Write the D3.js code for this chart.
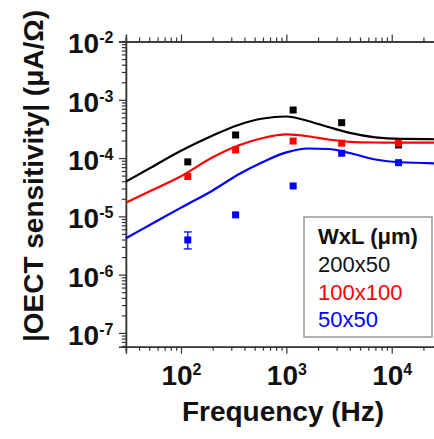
<!DOCTYPE html>
<html>
<head>
<meta charset="utf-8">
<script src="https://cdn.jsdelivr.net/npm/d3@7"></script>
<style>
  body { margin: 0; background: #fff; }
  svg { display: block; font-family: "Liberation Sans", Arial, sans-serif; }
</style>
</head>
<body>
<script>
// chart size
let width = 434, height = 439;

// plot area (right side runs past the window, like the original crop)
let margin = { top: 41.5, bottom: 92.3, left: 125.9, right: -8 };

// measured points (frequency in Hz, sensitivity in uA/Ohm)
const freqs = [116, 330, 1160, 3350, 11600];
const black200x50 = [8.6e-5, 2.49e-4, 6.68e-4, 4.05e-4, 1.68e-4];
const red100x100 = [4.83e-5, 1.38e-4, 1.96e-4, 1.80e-4, 1.80e-4];
const blue50x50 = [3.94e-6, 1.06e-5, 3.32e-5, 1.21e-4, 8.34e-5];
// error bar of the first blue point
const blueErrLow = [2.76e-6];
const blueErrHigh = [5.4e-6];

// fitted curves
const fitFreqs = [30, 50, 100, 200, 350, 600, 1000, 1600, 2500, 4000, 7000, 12000, 30000];
const fitBlack = [3.94e-5, 6.61e-5, 1.33e-4, 2.44e-4, 3.70e-4, 4.78e-4, 5.17e-4, 4.33e-4, 3.41e-4, 2.70e-4, 2.26e-4, 2.13e-4, 2.10e-4];
const fitRed = [1.72e-5, 2.67e-5, 4.87e-5, 1.03e-4, 1.64e-4, 2.21e-4, 2.54e-4, 2.37e-4, 2.08e-4, 1.90e-4, 1.85e-4, 1.84e-4, 1.84e-4];
const fitBlue = [4.21e-6, 7.03e-6, 1.41e-5, 2.78e-5, 5.24e-5, 8.57e-5, 1.25e-4, 1.46e-4, 1.43e-4, 1.22e-4, 9.46e-5, 8.47e-5, 8.08e-5];

// tick labels
const xMajor = [100, 1000, 10000];
const yMajor = [1e-7, 1e-6, 1e-5, 1e-4, 1e-3, 1e-2];

const legendTitle = "WxL (\u03bcm)";
const legendNames = ["200x50", "100x100", "50x50"];
const colors = ["#000000", "#ff0000", "#0000ff"];

let svg = d3.select('body')
  .append('svg')
  .attr('width', width)
  .attr('height', height);

const xScale = d3.scaleLog()
  .domain([30, 30000])
  .range([margin.left, width - margin.right]);

const yScale = d3.scaleLog()
  .domain([5.8e-8, 1e-2])
  .range([height - margin.bottom, margin.top]);

// minor ticks (2..9 of each decade)
const xMinor = xScale.ticks().filter(d => !xMajor.includes(d));
const yMinor = yScale.ticks().filter(d => !yMajor.some(m => Math.abs(m - d) / m < 1e-6));

const axisColor = "#333";

function styleAxis(g) {
  g.select(".domain").attr("stroke", axisColor).attr("stroke-width", 1.5);
  g.selectAll(".tick line").attr("stroke", axisColor).attr("stroke-width", 1.2);
}

function supLabels(g, dy) {
  g.selectAll(".tick text").each(function(d) {
    const t = d3.select(this);
    t.text("10");
    t.append("tspan")
      .attr("font-size", 16)
      .attr("dy", dy)
      .text(Math.round(Math.log10(d)));
  });
}

const yb = height - margin.bottom;

// bottom axis: minor, then major with labels
svg.append("g")
  .attr("transform", `translate(0,${yb})`)
  .call(d3.axisBottom(xScale).tickValues(xMinor).tickSize(4).tickFormat(""))
  .call(styleAxis);

svg.append("g")
  .attr("transform", `translate(0,${yb})`)
  .call(d3.axisBottom(xScale).tickValues(xMajor).tickSize(7).tickPadding(11.5))
  .call(styleAxis)
  .call(g => g.selectAll(".tick text")
    .attr("font-size", 28).attr("font-weight", "bold").attr("fill", "#111")
    .attr("font-family", "Liberation Sans, Arial, sans-serif"))
  .call(g => supLabels(g, -10));

// top axis
svg.append("g")
  .attr("transform", `translate(0,${margin.top})`)
  .call(d3.axisTop(xScale).tickValues(xMinor).tickSize(4).tickFormat(""))
  .call(styleAxis);

svg.append("g")
  .attr("transform", `translate(0,${margin.top})`)
  .call(d3.axisTop(xScale).tickValues(xMajor).tickSize(7).tickFormat(""))
  .call(styleAxis);

// left axis
svg.append("g")
  .attr("transform", `translate(${margin.left},0)`)
  .call(d3.axisLeft(yScale).tickValues(yMinor).tickSize(4).tickFormat(""))
  .call(styleAxis);

svg.append("g")
  .attr("transform", `translate(${margin.left},0)`)
  .call(d3.axisLeft(yScale).tickValues(yMajor).tickSize(7).tickPadding(5.5))
  .call(styleAxis)
  .call(g => g.selectAll(".tick text")
    .attr("font-size", 28).attr("font-weight", "bold").attr("fill", "#111")
    .attr("dy", "0.41em")
    .attr("font-family", "Liberation Sans, Arial, sans-serif"))
  .call(g => supLabels(g, -10));

// fitted curves
const line = d3.line()
  .x(d => xScale(d[0]))
  .y(d => yScale(d[1]))
  .curve(d3.curveMonotoneX);

const fits = [fitBlack, fitRed, fitBlue];
fits.forEach(function(vals, i) {
  svg.append("path")
    .datum(fitFreqs.map((f, j) => [f, vals[j]]))
    .attr("fill", "none")
    .attr("stroke", colors[i])
    .attr("stroke-width", 2.2)
    .attr("d", line);
});

// error bar on blue first point
const ex = xScale(freqs[0]);
svg.append("line")
  .attr("x1", ex).attr("x2", ex)
  .attr("y1", yScale(blueErrLow[0])).attr("y2", yScale(blueErrHigh[0]))
  .attr("stroke", colors[2]).attr("stroke-width", 1.3);
[blueErrLow[0], blueErrHigh[0]].forEach(v => {
  svg.append("line")
    .attr("x1", ex - 4).attr("x2", ex + 4)
    .attr("y1", yScale(v)).attr("y2", yScale(v))
    .attr("stroke", colors[2]).attr("stroke-width", 1.3);
});

// data squares
const series = [black200x50, red100x100, blue50x50];
const sq = 7;
series.forEach(function(vals, i) {
  svg.append("g").selectAll("rect")
    .data(freqs.map((f, j) => [f, vals[j]]))
    .enter()
    .append("rect")
    .attr("x", d => xScale(d[0]) - sq / 2)
    .attr("y", d => yScale(d[1]) - sq / 2)
    .attr("width", sq)
    .attr("height", sq)
    .attr("fill", colors[i]);
});

// legend
const lg = svg.append("g");
lg.append("rect")
  .attr("x", 304).attr("y", 217)
  .attr("width", 128).attr("height", 120)
  .attr("fill", "#fff")
  .attr("stroke", "#999")
  .attr("stroke-width", 1.5);

lg.append("text")
  .attr("x", 318).attr("y", 244)
  .attr("font-size", 22).attr("font-weight", "bold")
  .attr("fill", "#111")
  .text(legendTitle);

legendNames.forEach(function(name, i) {
  lg.append("text")
    .attr("x", 318).attr("y", 272 + i * 27.5)
    .attr("font-size", 22)
    .attr("fill", colors[i] === "#000000" ? "#111" : colors[i])
    .text(name);
});

// axis titles
svg.append("text")
  .attr("x", 283).attr("y", 421)
  .attr("text-anchor", "middle")
  .attr("font-size", 28).attr("font-weight", "bold")
  .attr("fill", "#111")
  .text("Frequency (Hz)");

svg.append("text")
  .attr("transform", `translate(43,176)rotate(-90)`)
  .attr("text-anchor", "middle")
  .attr("font-size", 28).attr("font-weight", "bold")
  .attr("fill", "#111")
  .text("|OECT sensitivity| (\u03bcA/\u03a9)");
</script>
</body>
</html>
